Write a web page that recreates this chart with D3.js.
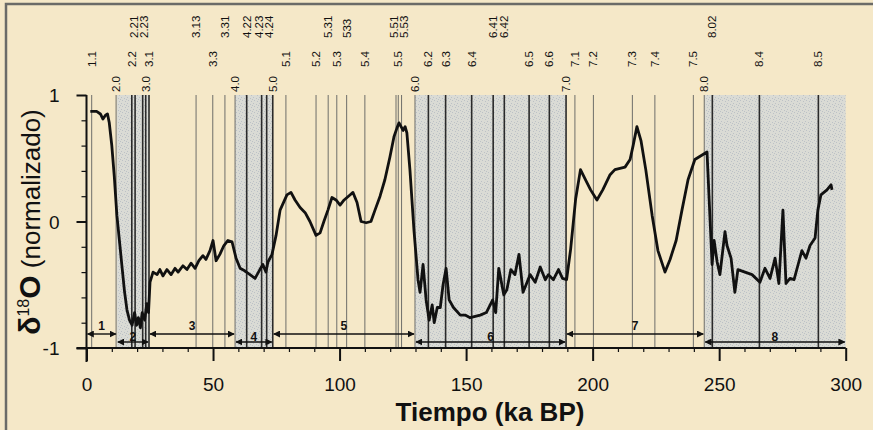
<!DOCTYPE html>
<html>
<head>
<meta charset="utf-8">
<script src="https://cdn.jsdelivr.net/npm/d3@7"></script>
<style>
  body { margin: 0; background: #f5e8c8; }
  svg { display: block; }
  text { font-family: "Liberation Sans", Arial, sans-serif; }
</style>
</head>
<body>
<svg id="chart" width="873" height="430"></svg>
<script>
// Axis ticks
const ageTicks = [0, 50, 100, 150, 200, 250, 300];
const valueTicks = [-1, 0, 1];

// Isotope events: label, age (ka), label row (0 lowest, 2 highest)
const eventLabels = ["1.1","2.0","2.2","2.21","2.23","3.0","3.1","3.13","3.3","3.31","4.0","4.22","4.23","4.24","5.0","5.1","5.2","5.31","5.3","533","5.4","5.51","5.5","5.53","6.0","6.2","6.3","6.4","6.41","6.42","6.5","6.6","7.0","7.1","7.2","7.3","7.4","7.5","8.0","8.02","8.4","8.5"];
const eventAges   = [2.05,11.7,17.9,19.2,22.2,23.4,24.7,43.3,49.9,54.7,58.7,63.3,69.2,71.2,73.6,78.8,90.7,95.5,98.9,102.8,110.0,122.3,123.2,124.5,129.8,135.1,141.9,152.2,160.7,165.1,174.9,182.9,189.5,193.0,200.3,215.7,224.6,239.8,244.1,247.3,265.9,289.2];
const eventRows   = [1,0,1,2,2,0,1,2,1,2,0,2,2,2,0,1,1,2,1,2,1,2,1,2,0,1,1,1,2,2,1,1,0,1,1,1,1,1,0,2,1,1];

// Marine isotope stages and their boundaries (ka)
const stageNumbers = [1, 2, 3, 4, 5, 6, 7, 8];
const stageBounds = [0, 12, 24.7, 58.7, 73.6, 129.8, 189.5, 244.1, 300];

// Normalized delta-18O record
const curveAge = [1.5,4,5.5,6.5,7.5,8.3,9,10,11,12,13,14,15,16,17,18,19,19.8,20.5,21.3,22,23,23.8,24.5,25.1,
  26.3,27.9,29,30.2,31.8,33.4,35,36.2,38.1,39.7,41.3,42.9,44.4,46,47.2,48.8,50,51.2,52.7,54.3,55.9,57.5,59.1,60.7,
  62.5,64.6,66.6,68.5,69.7,70.9,71.7,73.3,74.9,76.5,79.2,
  80.8,82.4,84.4,86.4,88.3,90.7,92.3,93.8,95.4,97,98.6,100.2,101.8,104.1,105.3,106.9,108.5,110.5,112.4,114,116,117.9,119.9,121.5,122.7,123.5,124.3,125.1,125.9,126.6,127.8,129.4,131,
  131.8,133,134.2,135.4,136.6,137.4,138.6,139.8,140.9,142.1,143.3,145,147.7,149.6,151.6,153.6,155.6,158,160.5,161.7,162.9,164.9,166.1,167.7,169.3,170.9,172.5,173.7,175.3,177.3,179.3,181.3,182.5,184.5,186.5,188.1,189.7,191.3,193.3,195.2,
  197.2,199.2,201.7,204,206.9,208.8,212.8,214.8,216,217.5,219.1,221,223.5,225.8,228.6,230.6,233,235.3,237.7,240.4,243.6,245.2,
  247.2,248,249.2,250.3,252.3,253.1,254.7,256.2,257.4,260.2,263,266.1,268.1,270.1,272.1,273.6,275.2,276.4,278,279.6,281.2,282.7,284.3,285.9,287.9,289,290.2,292.6,294.2,294.6
];
const curveValue = [0.87,0.87,0.85,0.81,0.84,0.85,0.78,0.6,0.35,0.05,-0.15,-0.35,-0.55,-0.7,-0.78,-0.82,-0.72,-0.82,-0.76,-0.84,-0.72,-0.78,-0.65,-0.72,-0.48,
  -0.4,-0.42,-0.38,-0.43,-0.38,-0.42,-0.37,-0.4,-0.35,-0.38,-0.33,-0.37,-0.31,-0.27,-0.3,-0.23,-0.15,-0.31,-0.26,-0.19,-0.15,-0.16,-0.29,-0.37,
  -0.39,-0.42,-0.45,-0.38,-0.34,-0.4,-0.32,-0.26,-0.11,0.09,0.21,
  0.23,0.17,0.11,0.07,0.0,-0.11,-0.09,0.0,0.09,0.19,0.17,0.13,0.17,0.21,0.23,0.15,0.0,-0.01,0.0,0.09,0.2,0.33,0.51,0.67,0.74,0.78,0.75,0.72,0.75,0.7,0.41,-0.07,-0.46,
  -0.56,-0.34,-0.62,-0.78,-0.66,-0.8,-0.68,-0.68,-0.5,-0.37,-0.62,-0.68,-0.74,-0.74,-0.76,-0.75,-0.74,-0.72,-0.62,-0.72,-0.37,-0.58,-0.54,-0.38,-0.42,-0.26,-0.56,-0.5,-0.42,-0.48,-0.36,-0.46,-0.42,-0.46,-0.38,-0.45,-0.46,-0.22,0.18,0.41,
  0.33,0.25,0.17,0.25,0.37,0.41,0.43,0.49,0.6,0.75,0.64,0.41,0.05,-0.23,-0.4,-0.3,-0.15,0.09,0.33,0.49,0.53,0.55,
  -0.34,-0.15,-0.32,-0.42,-0.08,-0.19,-0.29,-0.56,-0.38,-0.4,-0.42,-0.48,-0.37,-0.45,-0.29,-0.49,0.09,-0.49,-0.45,-0.46,-0.34,-0.23,-0.29,-0.19,-0.13,0.09,0.21,0.25,0.29,0.25
];

const svg = d3.select("#chart");
const W = 873, H = 430;

const x = d3.scaleLinear().domain([0, 300]).range([86.5, 845.7]);
const y = d3.scaleLinear().domain([-1, 1]).range([348, 95]);

// Background and outer frame
svg.append("rect").attr("width", W).attr("height", H).attr("fill", "#f5e8c8");
svg.append("path").attr("d", `M6,${H} V4 H${W}`).attr("fill", "none")
  .attr("stroke", "#6b6b68").attr("stroke-width", 2.5);

// Shaded glacial (even) stages
const defs = svg.append("defs");
const pat = defs.append("pattern").attr("id", "stipple").attr("patternUnits", "userSpaceOnUse")
  .attr("width", 6).attr("height", 6);
pat.append("rect").attr("width", 6).attr("height", 6).attr("fill", "#dadbd5");
[[1,1],[4,2],[2,4],[5,5],[0,3]].forEach(([px, py]) =>
  pat.append("rect").attr("x", px).attr("y", py).attr("width", 1).attr("height", 1).attr("fill", "#bcc1c6"));

const bands = stageNumbers.map((n, i) => ({ n, a: stageBounds[i], b: stageBounds[i + 1] }));
svg.append("g").selectAll("rect").data(bands.filter(d => d.n % 2 === 0)).join("rect")
  .attr("x", d => x(d.a)).attr("width", d => x(d.b) - x(d.a))
  .attr("y", y(1)).attr("height", y(-1) - y(1))
  .attr("fill", "url(#stipple)");

// Event lines
const events = eventLabels.map((l, i) => ({ l, t: eventAges[i], r: eventRows[i], lx: x(eventAges[i]) }));
const inBand = t => bands.some(d => d.n % 2 === 0 && t > d.a && t < d.b + 0.5);
svg.append("g").selectAll("line").data(events).join("line")
  .attr("x1", d => x(d.t)).attr("x2", d => x(d.t))
  .attr("y1", y(1)).attr("y2", y(-1))
  .attr("stroke", d => inBand(d.t) ? "#2a2a2a" : "#6e6e6a")
  .attr("stroke-width", d => inBand(d.t) ? 1.6 : 1);

// Spread labels sharing a row so neighbours keep a minimum gap
const minGap = 9.5;
[0, 1, 2].forEach(r => {
  const row = events.filter(d => d.r === r).sort((a, b) => a.lx - b.lx);
  for (let it = 0; it < 50; it++) {
    for (let i = 1; i < row.length; i++) {
      const gap = row[i].lx - row[i - 1].lx;
      if (gap < minGap) {
        const push = (minGap - gap) / 2;
        row[i - 1].lx -= push;
        row[i].lx += push;
      }
    }
  }
});

// Event labels, rotated
const rowBottom = [92, 67, 38];
svg.append("g").selectAll("text").data(events).join("text")
  .attr("transform", d => `translate(${d.lx},${rowBottom[d.r]}) rotate(-90)`)
  .attr("dy", "0.35em").attr("font-size", 11.5).attr("fill", "#111")
  .text(d => d.l);

// X axis
const xAxis = svg.append("g").attr("transform", `translate(0,${y(-1)})`)
  .call(d3.axisBottom(x).tickValues(d3.range(0, 301, 10)).tickSize(4)
    .tickFormat(d => ageTicks.includes(d) ? d : ""));
xAxis.select(".domain").remove();
xAxis.selectAll(".tick line").attr("stroke", "#111")
  .attr("y2", d => ageTicks.includes(d) ? 13 : 4)
  .attr("stroke-width", d => ageTicks.includes(d) ? 2 : 1.2);
xAxis.selectAll(".tick text").attr("y", 43).attr("dy", 0)
  .attr("font-size", 19).attr("fill", "#111");
svg.append("line").attr("x1", x(0) - 10).attr("x2", x(300)).attr("y1", y(-1)).attr("y2", y(-1))
  .attr("stroke", "#111").attr("stroke-width", 2);

// Y axis
const yAxis = svg.append("g").attr("transform", `translate(${x(0)},0)`)
  .call(d3.axisLeft(y).tickValues(d3.range(-1, 1.01, 0.2).map(v => Math.round(v * 10) / 10)).tickSize(5)
    .tickFormat(d => valueTicks.includes(d) ? d : ""));
yAxis.select(".domain").remove();
yAxis.selectAll(".tick line").attr("stroke", "#111")
  .attr("x2", d => valueTicks.includes(d) ? -10 : -5)
  .attr("stroke-width", d => valueTicks.includes(d) ? 2 : 1.2);
yAxis.selectAll(".tick text").attr("x", -27).attr("dy", "0.35em")
  .attr("font-size", 19).attr("fill", "#111");
svg.append("line").attr("x1", x(0)).attr("x2", x(0)).attr("y1", y(1)).attr("y2", y(-1) + 14)
  .attr("stroke", "#111").attr("stroke-width", 2);

// Stage arrows
defs.append("marker").attr("id", "ah").attr("viewBox", "0 0 10 10").attr("refX", 9).attr("refY", 5)
  .attr("markerWidth", 7).attr("markerHeight", 7).attr("markerUnits", "userSpaceOnUse")
  .attr("orient", "auto-start-reverse")
  .append("path").attr("d", "M0,0 L10,5 L0,10 Z").attr("fill", "#111");
const arrowY = n => n % 2 === 1 ? 334 : 342;
svg.append("g").selectAll("line").data(bands).join("line")
  .attr("x1", d => x(d.a) + 1).attr("x2", d => x(d.b) - 1)
  .attr("y1", d => arrowY(d.n)).attr("y2", d => arrowY(d.n))
  .attr("stroke", "#111").attr("stroke-width", 1.4)
  .attr("marker-start", "url(#ah)").attr("marker-end", "url(#ah)");
svg.append("g").selectAll("text").data(bands).join("text")
  .attr("x", d => x((d.a + d.b) / 2)).attr("y", d => arrowY(d.n) - (d.n % 2 ? 4 : 1))
  .attr("text-anchor", "middle").attr("font-size", 12).attr("font-weight", "bold").attr("fill", "#111")
  .text(d => d.n);

// Isotope curve
const pts = curveAge.map((t, i) => [t, curveValue[i]]);
svg.append("path").datum(pts)
  .attr("d", d3.line().x(d => x(d[0])).y(d => y(d[1])))
  .attr("fill", "none").attr("stroke", "#111").attr("stroke-width", 2.8)
  .attr("stroke-linejoin", "round");

// Axis titles
svg.append("text").attr("x", 490).attr("y", 421).attr("text-anchor", "middle")
  .attr("font-size", 26).attr("font-weight", "bold").attr("fill", "#111")
  .text("Tiempo (ka BP)");
const yt = svg.append("text").attr("transform", "translate(40,222) rotate(-90)")
  .attr("text-anchor", "middle").attr("fill", "#111");
yt.append("tspan").attr("font-size", 30).attr("font-weight", "bold").text("δ");
yt.append("tspan").attr("font-size", 16).attr("dy", -11).text("18");
yt.append("tspan").attr("font-size", 30).attr("font-weight", "bold").attr("dy", 11).text("O");
yt.append("tspan").attr("font-size", 26).text(" (normalizado)");
</script>
</body>
</html>
